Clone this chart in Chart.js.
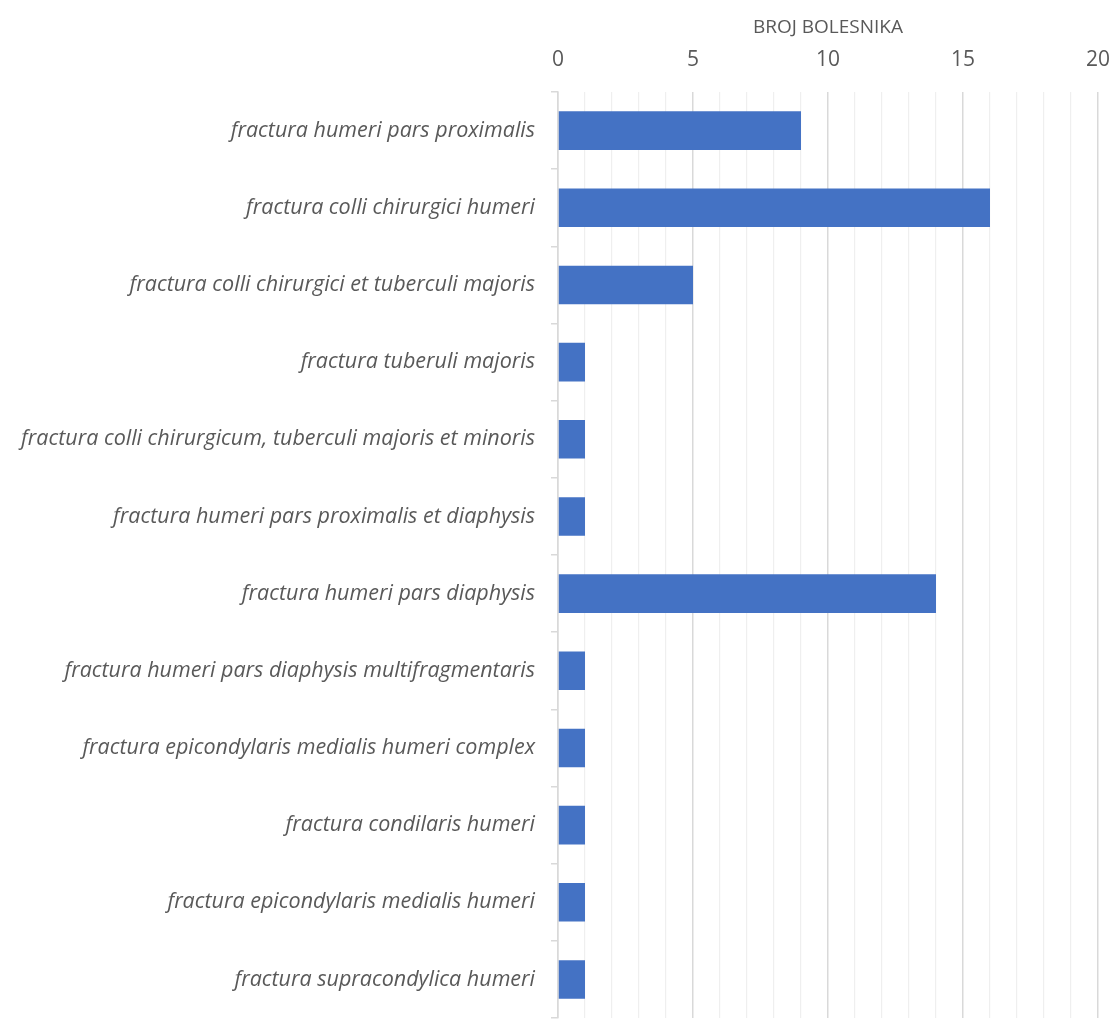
<!DOCTYPE html>
<html>
<head>
<meta charset="utf-8">
<script src="https://cdn.jsdelivr.net/npm/chart.js@4"></script>
<style>
html,body{margin:0;padding:0;background:#fff;}
#wrap{width:1113px;height:1023px;position:relative;}
</style>
</head>
<body>
<div id="wrap"><canvas id="c" width="1113" height="1023"></canvas></div>
<script>
const categories = [
  "fractura humeri pars proximalis",
  "fractura colli chirurgici humeri",
  "fractura colli chirurgici et tuberculi majoris",
  "fractura tuberuli majoris",
  "fractura colli chirurgicum, tuberculi majoris et minoris",
  "fractura humeri pars proximalis et diaphysis",
  "fractura humeri pars diaphysis",
  "fractura humeri pars diaphysis multifragmentaris",
  "fractura epicondylaris medialis humeri complex",
  "fractura condilaris humeri",
  "fractura epicondylaris medialis humeri",
  "fractura supracondylica humeri"
];
const patients = [9, 16, 5, 1, 1, 1, 14, 1, 1, 1, 1, 1];
const xTickLabels = [0, 5, 10, 15, 20];
const axisTitle = "BROJ BOLESNIKA";

new Chart(document.getElementById('c'), {
  type: 'bar',
  data: {
    labels: categories,
    datasets: [{
      label: axisTitle,
      data: patients,
      backgroundColor: '#4472C4',
      borderWidth: 0,
      categoryPercentage: 1,
      barPercentage: 0.5
    }]
  },
  options: {
    indexAxis: 'y',
    responsive: false,
    animation: false,
    layout: { padding: { top: 0, right: 15, bottom: 5, left: 0 } },
    plugins: { legend: { display: false }, tooltip: { enabled: false } },
    scales: {
      x: {
        position: 'top',
        min: 0, max: 20,
        afterFit: s => { s.height = 92; s.paddingLeft = 0; s.paddingRight = 0; },
        ticks: {
          stepSize: 1,
          autoSkip: false,
          maxRotation: 0,
          color: '#595959',
          font: { family: 'Open Sans', size: 21 },
          padding: 19,
          callback: v => xTickLabels.includes(v) ? String(v) : ''
        },
        grid: {
          drawTicks: false,
          color: ctx => (ctx.tick && ctx.tick.value % 5 === 0) ? '#d9d9d9' : '#efefef',
          lineWidth: ctx => (ctx.tick && ctx.tick.value % 5 === 0) ? 1.5 : 1.2
        },
        border: { display: false },
        title: {
          display: true,
          text: axisTitle,
          color: '#595959',
          font: { family: 'Open Sans', size: 19 },
          padding: { top: 16, bottom: 0 }
        }
      },
      y: {
        afterFit: s => { s.width = 558; s.paddingTop = 0; s.paddingBottom = 0; },
        ticks: {
          color: '#595959',
          font: { family: 'Open Sans', size: 21.5, style: 'italic' },
          padding: 16,
          autoSkip: false
        },
        grid: {
          offset: true,
          drawOnChartArea: false,
          drawTicks: true,
          tickLength: 7,
          color: '#d9d9d9',
          lineWidth: 1.5
        },
        border: { display: true, color: '#d9d9d9', width: 1.5 }
      }
    }
  }
});
</script>
</body>
</html>
